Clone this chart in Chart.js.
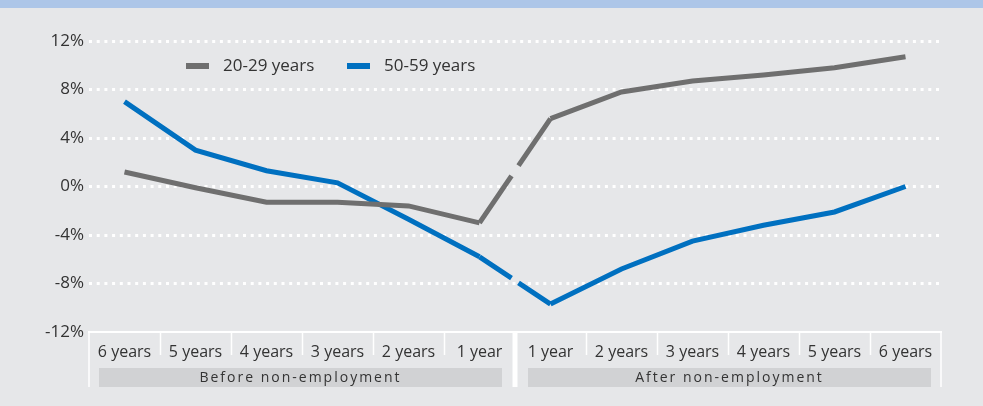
<!DOCTYPE html>
<html>
<head>
<meta charset="utf-8">
<script src="https://cdn.jsdelivr.net/npm/chart.js@4"></script>
<style>
  html,body{margin:0;padding:0;background:#e6e7e9;}
  #wrap{position:relative;width:983px;height:406px;overflow:hidden;background:#e6e7e9;}
  #band{position:absolute;left:0;top:0;width:983px;height:8px;background:#adc6e8;}
  canvas{position:absolute;left:0;top:0;}
</style>
</head>
<body>
<div id="wrap">
  <canvas id="c" width="983" height="406"></canvas>
  <div id="band"></div>
</div>
<script>
// ── data ──
const categories=['6 years','5 years','4 years','3 years','2 years','1 year','1 year','2 years','3 years','4 years','5 years','6 years'];
const groups=['Before non-employment','After non-employment'];
const age2029=[1.2,-0.1,-1.3,-1.3,-1.6,-3.0,5.6,7.8,8.7,9.2,9.8,10.7];
const age5059=[7.0,3.0,1.3,0.3,-2.7,-5.8,-9.7,-6.8,-4.5,-3.2,-2.1,0.0];
const yMin=-12,yMax=12,yStep=4;
const seriesNames=['20-29 years','50-59 years'];

const FONT='"Open Sans", sans-serif';
const TXT='#333333';
const BREAK=5; // segment between before/after

// gap in the line where the two periods meet
function gapDash(ctx){
  if(ctx.p0DataIndex!==BREAK)return undefined;
  const dx=ctx.p1.x-ctx.p0.x,dy=ctx.p1.y-ctx.p0.y;
  const L=Math.sqrt(dx*dx+dy*dy),g=7*L/dx;
  return [L/2-g/2,g,L];
}

const axisBox={
  id:'axisBox',
  afterDraw(chart){
    const {ctx,chartArea:a,scales:{x}}=chart;
    const top=a.bottom,bot=387;
    ctx.save();
    ctx.strokeStyle='#ffffff';
    // short separators between categories
    ctx.lineWidth=1.5;
    for(let i=1;i<categories.length;i++){
      if(i===BREAK+1)continue;
      const px=Math.round(x.getPixelForValue(i-0.5))+0.5;
      ctx.beginPath();ctx.moveTo(px,top);ctx.lineTo(px,355);ctx.stroke();
    }
    // outer edges
    [-0.5,categories.length-0.5].forEach(v=>{
      const px=Math.round(x.getPixelForValue(v));
      ctx.beginPath();ctx.moveTo(px,top);ctx.lineTo(px,bot);ctx.stroke();
    });
    // middle divider
    const mid=x.getPixelForValue(BREAK+0.5);
    ctx.lineWidth=5;
    ctx.beginPath();ctx.moveTo(mid,top);ctx.lineTo(mid,bot);ctx.stroke();
    // group bars
    const edges=[[x.getPixelForValue(-0.5)+10,mid-13],[mid+13,x.getPixelForValue(categories.length-0.5)-10]];
    ctx.font='14px '+FONT;
    ctx.textAlign='center';ctx.textBaseline='middle';
    if('letterSpacing' in ctx)ctx.letterSpacing='2px';
    groups.forEach((g,i)=>{
      const [l,r]=edges[i];
      ctx.fillStyle='#d1d2d4';
      ctx.fillRect(l,368,r-l,19);
      ctx.fillStyle=TXT;
      ctx.fillText(g,(l+r)/2,378);
    });
    ctx.restore();
  }
};

const lineLegend={
  id:'lineLegend',
  afterDraw(chart){
    const ctx=chart.ctx;
    const pos=[186,347];
    ctx.save();
    ctx.font='17px '+FONT;
    ctx.textBaseline='middle';ctx.textAlign='left';
    chart.data.datasets.forEach((ds,i)=>{
      ctx.fillStyle=ds.borderColor;
      ctx.fillRect(pos[i],63,23,6);
      ctx.fillStyle=TXT;
      ctx.fillText(ds.label,pos[i]+37,66);
    });
    ctx.restore();
  }
};

new Chart(document.getElementById('c'),{
  type:'line',
  data:{labels:categories,datasets:[
    {label:seriesNames[0],data:age2029,borderColor:'#6f6f6f',borderWidth:5,pointRadius:0,tension:0,fill:false,
     borderCapStyle:'butt',segment:{borderDash:gapDash}},
    {label:seriesNames[1],data:age5059,borderColor:'#0070c0',borderWidth:5,pointRadius:0,tension:0,fill:false,
     borderCapStyle:'butt',segment:{borderDash:gapDash}}
  ]},
  options:{responsive:false,animation:false,
    layout:{padding:{top:41,right:42,left:0,bottom:0}},
    plugins:{legend:{display:false},tooltip:{enabled:false}},
    scales:{
      x:{offset:true,
        grid:{display:false},
        border:{display:true,color:'#ffffff',width:2},
        ticks:{color:TXT,font:{family:FONT,size:16},padding:3,maxRotation:0,autoSkip:false},
        afterFit:s=>{s.height=74;}},
      y:{min:yMin,max:yMax,
        border:{display:false,dash:[3,4.7]},
        grid:{drawTicks:false,lineWidth:3,
          color:c=>c.tick&&c.tick.value===yMin?'rgba(0,0,0,0)':'#ffffff'},
        ticks:{stepSize:yStep,color:TXT,font:{family:FONT,size:17},padding:5,callback:v=>v+'%'},
        afterFit:s=>{s.width=89;}}
    }
  },
  plugins:[axisBox,lineLegend]
});
</script>
</body>
</html>
